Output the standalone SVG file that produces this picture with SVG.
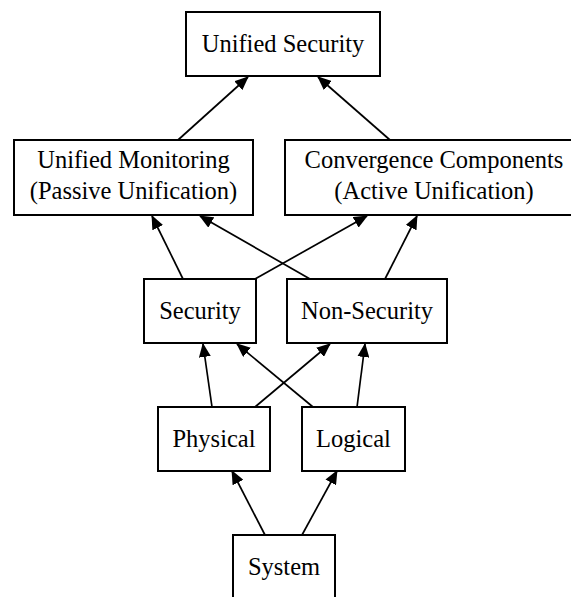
<svg xmlns="http://www.w3.org/2000/svg" width="571" height="597" viewBox="0 0 571 597">
  <style>
    .box { fill: #ffffff; stroke: #000000; stroke-width: 2; }
    .lbl { font-family: Liberation Serif, serif; font-size: 24.5px; fill: #000000; text-anchor: middle; }
    .edge { fill: none; stroke: #000000; stroke-width: 1.7; marker-end: url(#arrow); }
  </style>
  <defs>
    <marker id="arrow" markerUnits="userSpaceOnUse" markerWidth="14" markerHeight="12" refX="13" refY="6" orient="auto">
      <path d="M0,0 L14,6 L0,12 z" fill="#000000"/>
    </marker>
  </defs>
  <rect width="571" height="597" fill="#ffffff"/>

  <g id="edges">
    <line class="edge" x1="265" y1="535" x2="232" y2="471"/>
    <line class="edge" x1="302" y1="535" x2="337" y2="471"/>
    <line class="edge" x1="212" y1="407" x2="203" y2="344"/>
    <line class="edge" x1="313" y1="407" x2="237" y2="344"/>
    <line class="edge" x1="255" y1="407" x2="330" y2="344"/>
    <line class="edge" x1="357" y1="407" x2="365" y2="344"/>
    <line class="edge" x1="183" y1="279" x2="152" y2="216"/>
    <line class="edge" x1="310" y1="279" x2="200" y2="216"/>
    <line class="edge" x1="255" y1="279" x2="367" y2="216"/>
    <line class="edge" x1="385" y1="279" x2="417" y2="216"/>
    <line class="edge" x1="178" y1="140" x2="248" y2="77"/>
    <line class="edge" x1="390" y1="140" x2="318" y2="77"/>
  </g>

  <g id="unified-security">
    <rect class="box" x="186" y="12" width="194" height="64"/>
    <text class="lbl" x="283" y="52">Unified Security</text>
  </g>

  <g id="unified-monitoring">
    <rect class="box" x="14" y="140" width="239" height="75"/>
    <text class="lbl" x="133.5" y="168">Unified Monitoring</text>
    <text class="lbl" x="133.5" y="199">(Passive Unification)</text>
  </g>

  <!-- this box runs past the right edge of the canvas -->
  <g id="convergence-components">
    <rect class="box" x="285" y="140" width="298" height="75"/>
    <text class="lbl" x="434" y="168">Convergence Components</text>
    <text class="lbl" x="434" y="199">(Active Unification)</text>
  </g>

  <g id="security">
    <rect class="box" x="144" y="279" width="112" height="64"/>
    <text class="lbl" x="200" y="319">Security</text>
  </g>

  <g id="non-security">
    <rect class="box" x="287" y="279" width="160" height="64"/>
    <text class="lbl" x="367" y="319">Non-Security</text>
  </g>

  <g id="physical">
    <rect class="box" x="158" y="407" width="112" height="64"/>
    <text class="lbl" x="214" y="447">Physical</text>
  </g>

  <g id="logical">
    <rect class="box" x="302" y="407" width="103" height="64"/>
    <text class="lbl" x="353.5" y="447">Logical</text>
  </g>

  <g id="system">
    <rect class="box" x="233" y="535" width="102" height="70"/>
    <text class="lbl" x="284" y="575">System</text>
  </g>
</svg>
